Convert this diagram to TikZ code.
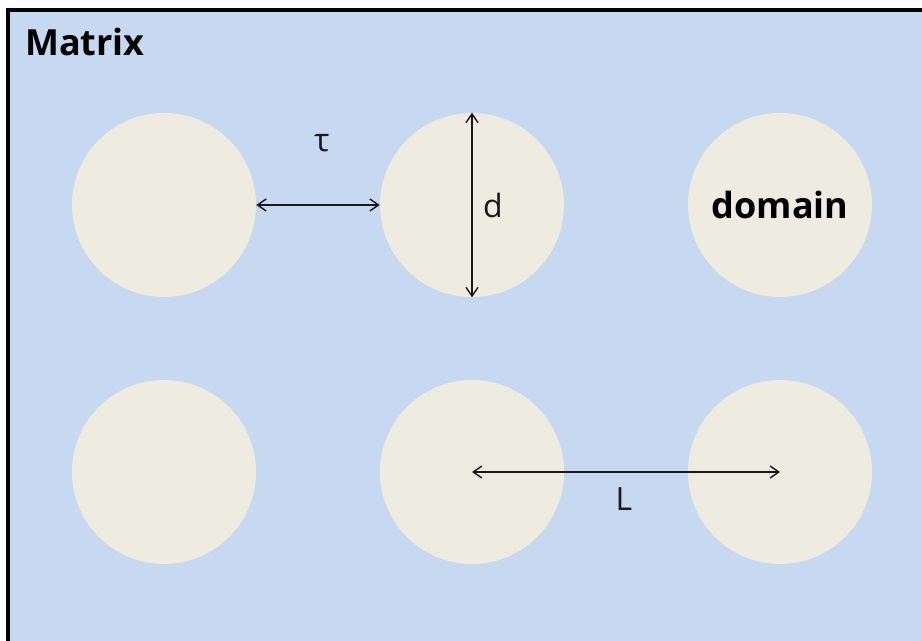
\documentclass[tikz,border=0pt]{standalone}
\usepackage{fontspec}
\setmainfont{Open Sans}
\usepackage{xcolor}
\usepackage{tikz}
\usetikzlibrary{arrows.meta,positioning}
\definecolor{matrixblue}{HTML}{C6D9F1}
\definecolor{domaincream}{HTML}{EEECE1}

\begin{document}
\begin{tikzpicture}[
    x=0.75pt, y=-0.75pt,
    disc/.style={circle, fill=domaincream, minimum size=138pt, inner sep=0pt},
    dim/.style={{Straight Barb[length=6.5pt,width=9pt]}-{Straight Barb[length=6.5pt,width=9pt]}, line width=1.05pt, black!90},
    dimlabel/.style={font=\fontsize{24}{28}\selectfont, text=black!90, inner sep=0pt},
    title/.style={font=\fontsize{27}{32}\selectfont\bfseries, inner sep=0pt}
]
\useasboundingbox (0,0) rectangle (922,641);
\clip (0,0) rectangle (922,641);
\draw[fill=matrixblue, line width=2.7pt] (8,10) rectangle (940,660);
\node[title, anchor=base west] (matrix) at (25,56) {Matrix};
% domains
\node[disc] (c11) at (164,205) {};
\node[disc] (c12) at (472,205) {};
\node[disc] (c13) at (780,205) {\fontsize{27}{32}\selectfont\bfseries domain};
\node[disc] (c21) at (164,472) {};
\node[disc] (c22) at (472,472) {};
\node[disc] (c23) at (780,472) {};
% dimensions
\draw[dim] (c11.east) -- (c12.west);
\draw[dim] (c12.north) -- (c12.south);
\draw[dim] (c22.center) -- (c23.center);
\node[dimlabel] (tau) at (322,143) {τ};
\node[dimlabel] (dia) at (493,206) {d};
\node[dimlabel] (len) at (624,499) {L};
\end{tikzpicture}
\end{document}
